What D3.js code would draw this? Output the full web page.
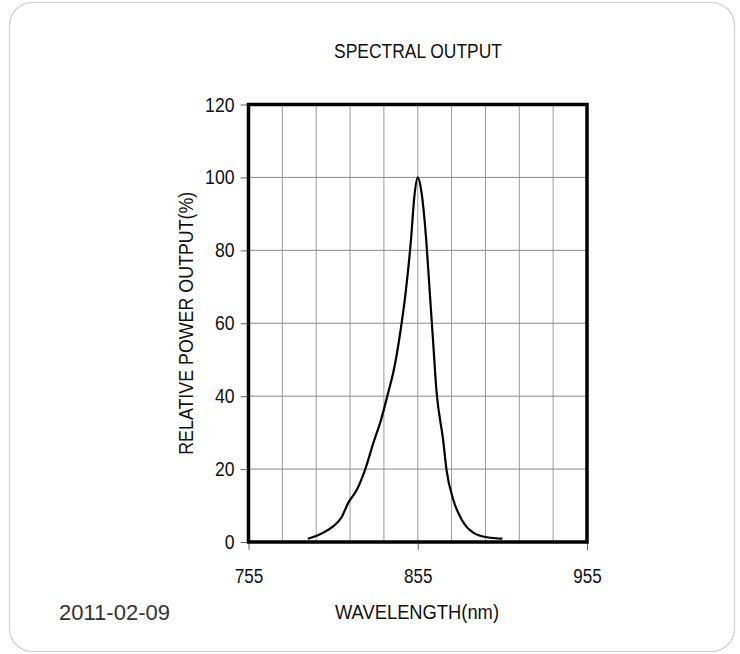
<!DOCTYPE html>
<html>
<head>
<meta charset="utf-8">
<script src="https://cdn.jsdelivr.net/npm/d3@7"></script>
<style>
  body { margin: 0; background: #fff; }
  svg text { font-family: "Liberation Sans", Arial, sans-serif; fill: #111; }
</style>
</head>
<body>
<script>
const width = 740, height = 654
const margin = {top: 104.5, right: 153, bottom: 112, left: 248.5}

// wavelength (nm) and relative power (%)
const wavelength = [790, 799, 805, 810, 814, 819, 824, 829, 833, 837, 841, 845, 848, 851, 853, 855,
  857, 860, 862, 864, 866, 870, 872, 876, 881, 888, 896, 905]
const power = [0.9, 2.5, 4.3, 6.8, 10.8, 14.3, 20.0, 27.5, 33.0, 40.0, 47.5, 58.5, 69.0, 82.9, 94.8, 100,
  96.6, 82.9, 69.2, 55.5, 41.8, 28.0, 19.8, 11.6, 6.1, 2.5, 1.3, 0.9]

const xTicks = [755, 855, 955]
const yTicks = [0, 20, 40, 60, 80, 100, 120]
const xGrid = [775, 795, 815, 835, 855, 875, 895, 915, 935]
const yGrid = [20, 40, 60, 80, 100]

const svg = d3.select('body').append('svg')
  .attr('width', width)
  .attr('height', height)

// rounded outer frame
svg.append('rect')
  .attr('x', 9.5).attr('y', 2.5)
  .attr('width', 725).attr('height', 649)
  .attr('rx', 23)
  .attr('fill', 'none')
  .attr('stroke', '#cfcfcf')
  .attr('stroke-width', 1.2)

const x = d3.scaleLinear().domain([755, 955]).range([margin.left, width - margin.right])
const y = d3.scaleLinear().domain([0, 120]).range([height - margin.bottom, margin.top])

// grid
svg.append('g').selectAll('line').data(xGrid).join('line')
  .attr('x1', d => x(d)).attr('x2', d => x(d))
  .attr('y1', y(120)).attr('y2', y(0))
  .attr('stroke', '#9a9a9a').attr('stroke-width', 1)
svg.append('g').selectAll('line').data(yGrid).join('line')
  .attr('x1', x(755)).attr('x2', x(955))
  .attr('y1', d => y(d)).attr('y2', d => y(d))
  .attr('stroke', '#8a8a8a').attr('stroke-width', 1)

// axes (narrow-looking labels: squeeze regular glyphs)
const yAxis = svg.append('g')
  .attr('transform', 'translate(' + x(755) + ',0)')
  .call(d3.axisLeft(y).tickValues(yTicks).tickSize(8).tickPadding(6))
yAxis.select('.domain').remove()
yAxis.selectAll('line').attr('stroke', '#666')
yAxis.selectAll('text')
  .attr('font-size', 20.5).attr('font-family', null)
  .attr('textLength', d => String(d).length * 9.8)
  .attr('lengthAdjust', 'spacingAndGlyphs')

const xAxis = svg.append('g')
  .attr('transform', 'translate(0,' + y(0) + ')')
  .call(d3.axisBottom(x).tickValues(xTicks).tickSize(8).tickPadding(18))
xAxis.select('.domain').remove()
xAxis.selectAll('line').attr('stroke', '#666')
xAxis.selectAll('text')
  .attr('font-size', 20.5).attr('font-family', null)
  .attr('textLength', 28.5)
  .attr('lengthAdjust', 'spacingAndGlyphs')

// heavy plot border
svg.append('rect')
  .attr('x', x(755)).attr('y', y(120))
  .attr('width', x(955) - x(755)).attr('height', y(0) - y(120))
  .attr('fill', 'none')
  .attr('stroke', '#000')
  .attr('stroke-width', 3.5)

// spectral curve
const line = d3.line()
  .x(d => x(d[0]))
  .y(d => y(d[1]))
  .curve(d3.curveMonotoneX)
svg.append('path')
  .datum(d3.zip(wavelength, power))
  .attr('d', line)
  .attr('fill', 'none')
  .attr('stroke', '#000')
  .attr('stroke-width', 2.2)

// titles
svg.append('text')
  .attr('x', 418).attr('y', 57.5)
  .attr('text-anchor', 'middle')
  .attr('font-size', 20)
  .attr('textLength', 168)
  .attr('lengthAdjust', 'spacingAndGlyphs')
  .text('SPECTRAL OUTPUT')

svg.append('text')
  .attr('x', 417).attr('y', 619)
  .attr('text-anchor', 'middle')
  .attr('font-size', 20)
  .attr('textLength', 164)
  .attr('lengthAdjust', 'spacingAndGlyphs')
  .text('WAVELENGTH(nm)')

svg.append('text')
  .attr('transform', 'translate(193,' + y(60) + ') rotate(-90)')
  .attr('text-anchor', 'middle')
  .attr('font-size', 20.5)
  .attr('textLength', 263)
  .attr('lengthAdjust', 'spacingAndGlyphs')
  .text('RELATIVE POWER OUTPUT(%)')

svg.append('text')
  .attr('x', 59).attr('y', 620)
  .attr('font-family', 'Roboto, "Liberation Sans", sans-serif')
  .attr('font-weight', 300)
  .attr('font-size', 22)
  .attr('textLength', 111)
  .attr('lengthAdjust', 'spacingAndGlyphs')
  .style('fill', '#333')
  .text('2011-02-09')
</script>
</body>
</html>
